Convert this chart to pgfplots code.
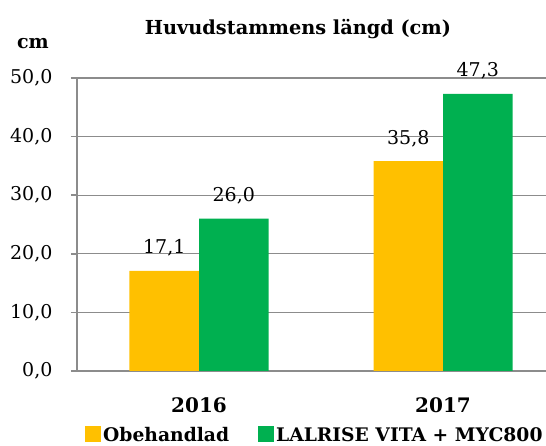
\documentclass[border=0pt]{standalone}
\usepackage{pgfplots}
\pgfplotsset{compat=1.18}
\usepackage{fontspec}
\setmainfont{DejaVu Serif}
\definecolor{ylw}{HTML}{FFC000}
\definecolor{grn}{HTML}{00B050}
\definecolor{gridc}{HTML}{8C8C8C}
\begin{document}
\begin{tikzpicture}
\begin{axis}[
  at={(77pt,75pt)}, anchor=south west,
  scale only axis, width=488pt, height=293pt,
  ymin=0, ymax=50, ytick={0,10,...,50},
  xmin=-0.5, xmax=1.5,
  xtick={0,1}, xticklabels={2016,2017},
  x tick style={draw=none},
  extra x ticks={-0.5,0.5,1.5}, extra x tick labels={},
  extra x tick style={tick style={gridc, line width=1.5pt}},
  axis x line*=bottom, axis y line*=left,
  tick align=outside, major tick length=6pt,
  ymajorgrids, grid style={gridc, line width=1.2pt},
  axis line style={gridc, line width=1.5pt, -},
  y tick style={gridc, line width=1.5pt},
  /pgf/number format/assume math mode=true,
  yticklabel style={font=\fontsize{19}{19}\selectfont, xshift=-15pt, /pgf/number format/fixed, /pgf/number format/fixed zerofill, /pgf/number format/precision=1, /pgf/number format/use comma, /pgf/number format/assume math mode=true},
  xticklabel style={font=\bfseries\fontsize{20}{20}\selectfont, anchor=base, yshift=-36pt},
  ybar=0pt, bar width=69.5pt,
  nodes near coords,
  nodes near coords style={font=\fontsize{19}{19}\selectfont, anchor=base, yshift=17pt, /pgf/number format/fixed, /pgf/number format/fixed zerofill, /pgf/number format/precision=1, /pgf/number format/use comma, /pgf/number format/assume math mode=true},
  legend columns=2,
  legend style={draw=none, fill=none, at={(rel axis cs:0,0)}, anchor=north west, xshift=5pt, yshift=-52pt,
    font=\bfseries\fontsize{18.7}{18.7}\selectfont,
    /tikz/every even column/.append style={column sep=27pt}},
  legend image code/.code={\fill[#1,draw=none] (0pt,-7pt) rectangle (16pt,9pt);},
]
\addplot[fill=ylw, draw=none] coordinates {(0,17.1) (1,35.8)};
\addplot[fill=grn, draw=none] coordinates {(0,26.0) (1,47.3)};
\legend{Obehandlad, LALRISE VITA + MYC800}
\end{axis}
\node[font=\bfseries\fontsize{19.3}{19.3}\selectfont, anchor=base] at (298pt,411pt) {Huvudstammens längd (cm)};
\node[font=\bfseries\fontsize{19}{19}\selectfont, anchor=base] at (33pt,397pt) {cm};
\pgfresetboundingbox
\path (0pt,0pt) rectangle (546pt,446pt);
\end{tikzpicture}
\end{document}
